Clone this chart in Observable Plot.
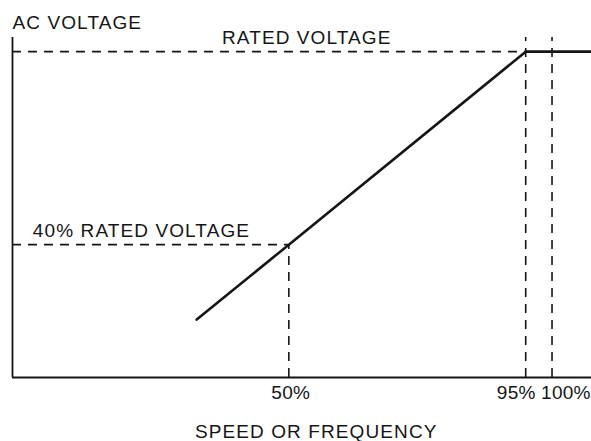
<!DOCTYPE html>
<html>
<head>
<meta charset="utf-8">
<script src="https://cdn.jsdelivr.net/npm/d3@7"></script>
<script src="https://cdn.jsdelivr.net/npm/@observablehq/plot@0.6"></script>
<style>
  html, body { margin: 0; padding: 0; background: #fff; }
  #chart svg { display: block; }
  #chart svg text { letter-spacing: 1.1px; }
  #chart svg text.tick { letter-spacing: 0.3px; }
</style>
</head>
<body>
<div id="chart"></div>
<script>
// ---- data (percent of rated speed / rated voltage) ----
const xDomain = [-2.5, 107.5];
const yDomain = [-1.3, 104.4];
const vfCurveX = [32.5, 50, 95, 107.5];
const vfCurveY = [16.7, 40, 100, 100];
const refLevels = [
  {level: 100, upTo: 95, label: "RATED VOLTAGE", labelAt: 53.4},
  {level: 40, upTo: 50, label: "40% RATED VOLTAGE", labelAt: 22}
];
const markerSpeeds = [50, 95, 100];
const markerTops = [40, 104.4, 104.4];
const tickLabels = ["50%", "95%", "100%"];
const yAxisTitle = "AC VOLTAGE";
const xAxisTitle = "SPEED OR FREQUENCY";
const xTitleAt = 55.2;

const curve = vfCurveX.map((x, i) => ({x, y: vfCurveY[i]}));
const markers = markerSpeeds.map((x, i) => ({x, top: markerTops[i], label: tickLabels[i]}));

const ink = "#151515";
const dash = "9,7";
const fs = 19;

const chart = Plot.plot({
  width: 591,
  height: 441,
  marginLeft: 12,
  marginRight: 0,
  marginTop: 37,
  marginBottom: 64,
  x: {domain: xDomain, axis: null},
  y: {domain: yDomain, axis: null},
  style: {fontFamily: "'Liberation Sans', Arial, sans-serif", fontSize: fs + "px", color: ink, background: "#fff"},
  marks: [
    // axes
    Plot.ruleX([xDomain[0]], {y1: yDomain[0], y2: yDomain[1], stroke: ink, strokeWidth: 1.8}),
    Plot.ruleY([yDomain[0]], {x1: xDomain[0], x2: xDomain[1], stroke: ink, strokeWidth: 1.8}),
    // dashed reference levels
    Plot.ruleY(refLevels, {y: "level", x1: xDomain[0], x2: "upTo", stroke: ink, strokeWidth: 1.6, strokeDasharray: dash}),
    // dashed speed markers
    Plot.ruleX(markers, {x: "x", y1: yDomain[0], y2: "top", stroke: ink, strokeWidth: 1.6, strokeDasharray: dash}),
    // V/f curve
    Plot.line(curve, {x: "x", y: "y", stroke: ink, strokeWidth: 2.6}),
    // labels
    Plot.text(refLevels, {x: "labelAt", y: "level", text: "label", dy: -8, lineAnchor: "bottom", fill: ink, fontSize: fs}),
    Plot.text([yAxisTitle], {x: xDomain[0], y: yDomain[1], text: d => d, textAnchor: "start", lineAnchor: "bottom", dy: -9, fill: ink, fontSize: fs}),
    Plot.text(markers.filter(d => d.x === 50), {x: "x", frameAnchor: "bottom", text: "label", lineAnchor: "bottom", dx: 2, dy: 21, fill: ink, fontSize: fs}),
    Plot.text(markers.filter(d => d.x === 95), {x: "x", frameAnchor: "bottom", text: "label", textAnchor: "end", lineAnchor: "bottom", dx: 10, dy: 21, fill: ink, fontSize: fs}),
    Plot.text(markers.filter(d => d.x === 100), {x: "x", frameAnchor: "bottom", text: "label", textAnchor: "start", lineAnchor: "bottom", dx: -11, dy: 21, fill: ink, fontSize: fs}),
    Plot.text([xAxisTitle], {x: xTitleAt, frameAnchor: "bottom", text: d => d, lineAnchor: "bottom", dy: 60, fill: ink, fontSize: fs})
  ]
});
d3.select(chart).selectAll("text").filter(function () {
  return tickLabels.includes(this.textContent);
}).classed("tick", true);
document.getElementById("chart").append(chart);
</script>
</body>
</html>
